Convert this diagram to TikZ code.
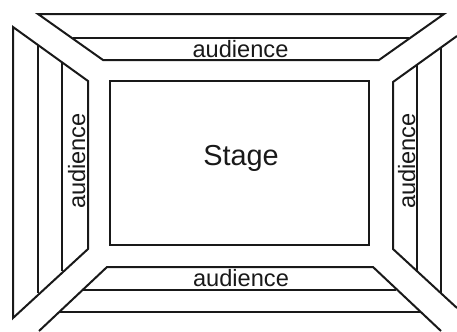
\documentclass[tikz,border=0pt]{standalone}
\usepackage{fontspec}
\setmainfont{Liberation Sans}
\tikzset{
  seat/.style={draw=black!90!white,line width=2bp,line join=miter,line cap=butt},
  lbl/.style={inner sep=0pt,text=black!90!white,font=\fontsize{23.7}{24}\selectfont,anchor=base},
  stagelbl/.style={inner sep=0pt,text=black!90!white,font=\fontsize{29}{30}\selectfont,anchor=base}
}
\begin{document}
\begin{tikzpicture}[x=1bp,y=-1bp]
\useasboundingbox (0,0) rectangle (457,331);
\clip (0,0) rectangle (457,331);
% top block
\draw[seat] (38,14) -- (444,14) -- (379,60) -- (103,60) -- cycle;
\draw[seat] (73,38) -- (409,38);
% left block
\draw[seat] (13,27) -- (88,81) -- (88,249) -- (13,318) -- cycle;
\draw[seat] (38,45) -- (38,293);
\draw[seat] (62,63) -- (62,271);
% right block
\draw[seat] (457,36) -- (393,82) -- (393,249) -- (457,308);
\draw[seat] (417,65) -- (417,272);
\draw[seat] (441,47) -- (441,293);
% bottom block
\draw[seat] (39,331) -- (107,267) -- (373,267) -- (441,331);
\draw[seat] (83,290) -- (396,290);
\draw[seat] (59,312) -- (420,312);
% stage
\draw[seat] (110,81) rectangle (369,245);
\node[stagelbl] (stage) at (241,165) {Stage};
\node[lbl] (top) at (240.5,57.5) {audience};
\node[lbl] (bottom) at (241,286.5) {audience};
\node[lbl,rotate=90] (left) at (85,161) {audience};
\node[lbl,rotate=90] (right) at (415,161) {audience};
\end{tikzpicture}
\end{document}
